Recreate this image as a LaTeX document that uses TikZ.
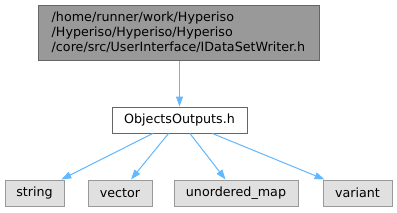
\documentclass[tikz,border=0pt]{standalone}
\usepackage{fontspec}
\setmainfont{DejaVu Sans}
\usetikzlibrary{arrows.meta}
\definecolor{edgeblue}{HTML}{63B8FF}
\definecolor{darkborder}{HTML}{666666}
\definecolor{lightborder}{HTML}{999999}
\definecolor{mainfill}{HTML}{999999}
\definecolor{sysfill}{HTML}{E0E0E0}
\begin{document}
\begin{tikzpicture}[x=1pt, y=-1pt,
		every node/.style={font=\fontsize{12.7}{15}\selectfont, inner sep=0pt, minimum height=26pt},
		mainfile/.style={draw=darkborder, fill=mainfill, line width=1pt, minimum width=281pt, minimum height=55pt, align=left},
		incfile/.style={draw=darkborder, fill=white, line width=1pt},
		sysfile/.style={draw=lightborder, fill=sysfill, line width=1pt},
		dep/.style={-{Triangle[length=10pt,width=7pt]}, draw=edgeblue, fill=edgeblue, line width=1pt}]
				\useasboundingbox (0,0) rectangle (397,212);
				\node[mainfile] (writer) at (178.5,32.5) {/home/runner/work/Hyperiso\\/Hyperiso/Hyperiso/Hyperiso\\/core/src/UserInterface/IDataSetWriter.h};
				\node[incfile, minimum width=135pt] (outputs) at (179.5,120) {ObjectsOutputs.h};
				\node[sysfile, minimum width=59pt] (string) at (34.5,193) {string};
				\node[sysfile, minimum width=64pt] (vector) at (120,193) {vector};
				\node[sysfile, minimum width=124pt] (umap) at (236,193) {unordered\_map};
				\node[sysfile, minimum width=69pt] (variant) at (357.5,193) {variant};
				\draw[dep] (writer.south -| outputs.north) -- (outputs.north);
				\draw[dep] (outputs) -- (string);
				\draw[dep] (outputs) -- (vector);
				\draw[dep] (outputs) -- (umap);
				\draw[dep] (outputs) -- (variant);
			\end{tikzpicture}
\end{document}
